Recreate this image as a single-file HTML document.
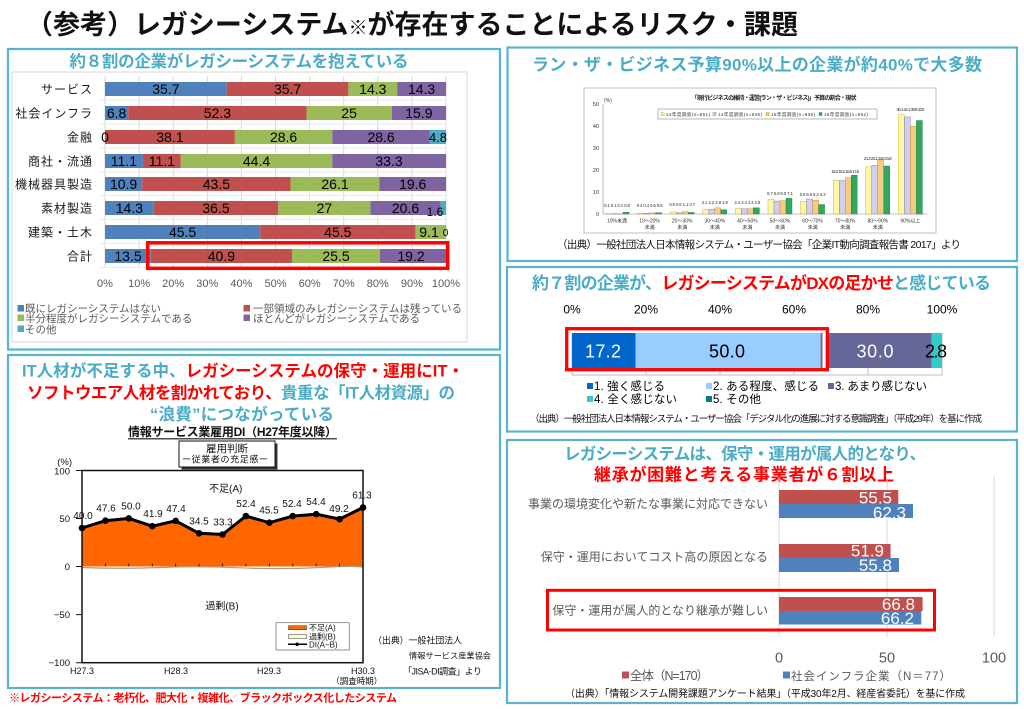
<!DOCTYPE html>
<html><head><meta charset="utf-8">
<style>
html,body{margin:0;padding:0;background:#fff;}
svg{display:block;}
text{font-family:"Liberation Sans","Noto Sans CJK JP",sans-serif;}
.b{font-weight:bold;}
.m{font-family:"Liberation Mono","Noto Sans CJK JP",monospace;}
</style></head><body>
<svg width="1024" height="709" viewBox="0 0 1024 709" xmlns="http://www.w3.org/2000/svg">
<rect x="0" y="0" width="1024" height="709" fill="#fff"/>

<!-- Main title -->
<text x="26" y="34" font-size="27" class="b" fill="#111" textLength="772" lengthAdjust="spacing">（参考）レガシーシステム<tspan font-size="19">※</tspan>が存在することによるリスク・課題</text>

<!-- Panel borders -->
<g fill="none" stroke="#5AB3CC" stroke-width="2.2">
<rect x="8" y="49" width="492" height="300.5"/>
<rect x="507.5" y="47.5" width="509.5" height="213.5"/>
<rect x="507" y="267" width="510" height="164.5"/>
<rect x="507" y="440" width="510" height="263"/>
<rect x="8" y="355" width="492" height="333"/>
</g>

<!-- ================= Panel 1 ================= -->
<rect x="12" y="72" width="455" height="270" fill="none" stroke="#D9D9D9"/>
<text x="239" y="67" text-anchor="middle" font-size="16.5" class="b" fill="#4BACC6" textLength="339" lengthAdjust="spacing">約８割の企業がレガシーシステムを抱えている</text>
<g stroke="#D9D9D9" stroke-width="1">
<path d="M105 76V268M139.1 76V268M173.2 76V268M207.3 76V268M241.4 76V268M275.5 76V268M309.6 76V268M343.7 76V268M377.8 76V268M411.9 76V268M446 76V268"/>
<path d="M100 100H446M100 124H446M100 148H446M100 172H446M100 195.5H446M100 219.5H446M100 243.5H446M100 267.5H446" stroke="#EAEAEA"/>
</g>
<g>
<rect x="105" y="82" width="121.7" height="14" fill="#4F81BD"/><rect x="226.7" y="82" width="121.7" height="14" fill="#C0504D"/><rect x="348.4" y="82" width="48.8" height="14" fill="#9BBB59"/><rect x="397.2" y="82" width="48.8" height="14" fill="#8064A2"/>
<rect x="105" y="106" width="23.2" height="14" fill="#4F81BD"/><rect x="128.2" y="106" width="178.3" height="14" fill="#C0504D"/><rect x="306.5" y="106" width="85.3" height="14" fill="#9BBB59"/><rect x="391.8" y="106" width="54.2" height="14" fill="#8064A2"/>
<rect x="105" y="130" width="129.9" height="14" fill="#C0504D"/><rect x="234.9" y="130" width="97.5" height="14" fill="#9BBB59"/><rect x="332.4" y="130" width="97.5" height="14" fill="#8064A2"/><rect x="429.9" y="130" width="16.1" height="14" fill="#4BACC6"/>
<rect x="105" y="154" width="37.9" height="14" fill="#4F81BD"/><rect x="142.9" y="154" width="37.9" height="14" fill="#C0504D"/><rect x="180.8" y="154" width="151.4" height="14" fill="#9BBB59"/><rect x="332.2" y="154" width="113.8" height="14" fill="#8064A2"/>
<rect x="105" y="177" width="37.2" height="14" fill="#4F81BD"/><rect x="142.2" y="177" width="148.3" height="14" fill="#C0504D"/><rect x="290.5" y="177" width="89" height="14" fill="#9BBB59"/><rect x="379.5" y="177" width="66.5" height="14" fill="#8064A2"/>
<rect x="105" y="201" width="48.8" height="14" fill="#4F81BD"/><rect x="153.8" y="201" width="124.5" height="14" fill="#C0504D"/><rect x="278.3" y="201" width="92.1" height="14" fill="#9BBB59"/><rect x="370.4" y="201" width="70.2" height="14" fill="#8064A2"/><rect x="440.6" y="201" width="5.4" height="14" fill="#4BACC6"/>
<rect x="105" y="225" width="155.2" height="14" fill="#4F81BD"/><rect x="260.2" y="225" width="155.2" height="14" fill="#C0504D"/><rect x="415.4" y="225" width="30.6" height="14" fill="#9BBB59"/>
<rect x="105" y="249" width="45.7" height="14" fill="#4F81BD"/><rect x="150.7" y="249" width="141.3" height="14" fill="#C0504D"/><rect x="292" y="249" width="88" height="14" fill="#9BBB59"/><rect x="380" y="249" width="66" height="14" fill="#8064A2"/>
</g>
<g font-size="14" fill="#000" text-anchor="middle">
<text x="165.9" y="94">35.7</text><text x="287.6" y="94">35.7</text><text x="372.8" y="94">14.3</text><text x="421.6" y="94">14.3</text>
<text x="116.6" y="118">6.8</text><text x="217.4" y="118">52.3</text><text x="349.1" y="118">25</text><text x="418.9" y="118">15.9</text>
<text x="105" y="142">0</text><text x="170" y="142">38.1</text><text x="283.6" y="142">28.6</text><text x="381.1" y="142">28.6</text><text x="438" y="142" font-size="13">4.8</text>
<text x="123.9" y="166">11.1</text><text x="161.9" y="166">11.1</text><text x="256.5" y="166">44.4</text><text x="389" y="166">33.3</text>
<text x="123.6" y="189">10.9</text><text x="216.4" y="189">43.5</text><text x="335" y="189">26.1</text><text x="412.7" y="189">19.6</text>
<text x="129.4" y="213">14.3</text><text x="216" y="213">36.5</text><text x="324.4" y="213">27</text><text x="405.5" y="213">20.6</text><text x="435" y="216" font-size="12">1.6</text>
<text x="182.6" y="237">45.5</text><text x="337.8" y="237">45.5</text><text x="429" y="237">9.1</text><text x="445.5" y="236" font-size="10">0</text>
<text x="128" y="261">13.5</text><text x="221.4" y="261">40.9</text><text x="336" y="261">25.5</text><text x="411" y="261">19.2</text>
</g>
<g font-size="12" fill="#1a1a1a" text-anchor="end" letter-spacing="1">
<text x="93" y="93.5">サービス</text>
<text x="93" y="117.5">社会インフラ</text>
<text x="93" y="141.5">金融</text>
<text x="93" y="165.5">商社・流通</text>
<text x="93" y="188.5">機械器具製造</text>
<text x="93" y="212.5">素材製造</text>
<text x="93" y="236.5">建築・土木</text>
<text x="93" y="260.5">合計</text>
</g>
<g font-size="11" fill="#595959" text-anchor="middle">
<text x="105" y="287">0%</text><text x="139.1" y="287">10%</text><text x="173.2" y="287">20%</text><text x="207.3" y="287">30%</text><text x="241.4" y="287">40%</text><text x="275.5" y="287">50%</text><text x="309.6" y="287">60%</text><text x="343.7" y="287">70%</text><text x="377.8" y="287">80%</text><text x="411.9" y="287">90%</text><text x="446" y="287">100%</text>
</g>
<rect x="147.7" y="242.8" width="300" height="25.5" fill="none" stroke="#FF0000" stroke-width="3.5"/>
<rect x="17.5" y="305" width="6.5" height="6.5" fill="#4F81BD"/>
<rect x="243.5" y="305" width="6.5" height="6.5" fill="#C0504D"/>
<rect x="17.5" y="314.5" width="6.5" height="6.5" fill="#9BBB59"/>
<rect x="243.5" y="314.5" width="6.5" height="6.5" fill="#8064A2"/>
<rect x="17.5" y="325.5" width="6.5" height="6.5" fill="#4BACC6"/>
<g font-size="10.5" fill="#595959">
<text x="25" y="312.2">既にレガシーシステムはない</text>
<text x="253" y="312.2">一部領域のみレガシーシステムは残っている</text>
<text x="25" y="321.8">半分程度がレガシーシステムである</text>
<text x="253" y="321.8">ほとんどがレガシーシステムである</text>
<text x="25" y="333">その他</text>
</g>

<!-- ================= Panel 2 ================= -->
<text x="532" y="70.5" font-size="17" class="b" fill="#4BACC6" textLength="450" lengthAdjust="spacing">ラン・ザ・ビジネス予算90%以上の企業が約40%で大多数</text>
<rect x="584" y="88" width="352" height="145" fill="#fff" stroke="#BFBFBF"/>
<text x="774" y="100" text-anchor="middle" font-size="6" class="b" fill="#222" textLength="165" lengthAdjust="spacing">「現行ビジネスの維持・運営(ラン・ザ・ビジネス)」予算の割合・現状</text>
<path d="M603 104V214H927" stroke="#888" fill="none" stroke-width="0.6"/>
<g font-size="5.5" fill="#333" text-anchor="end">
<text x="599" y="106">50</text><text x="599" y="128">40</text><text x="599" y="150">30</text><text x="599" y="172">20</text><text x="599" y="194">10</text><text x="599" y="216">0</text>
</g>
<text x="604" y="102" font-size="5" fill="#333">(%)</text>
<rect x="658" y="109" width="219" height="10" fill="#fff" stroke="#888" stroke-width="0.6"/>
<rect x="661" y="112.5" width="3" height="3" fill="#FFF7A8" stroke="#BBA800" stroke-width="0.4"/>
<rect x="713" y="112.5" width="3" height="3" fill="#CFCFEF" stroke="#7070A0" stroke-width="0.4"/>
<rect x="766" y="112.5" width="3" height="3" fill="#F8CC80" stroke="#C08020" stroke-width="0.4"/>
<rect x="819" y="112.5" width="3" height="3" fill="#30A860" stroke="#1E7A40" stroke-width="0.4"/>
<g font-size="4.6" fill="#333">
<text x="666" y="116" textLength="44">13年度調査(n=851)</text>
<text x="718" y="116" textLength="44">14年度調査(n=945)</text>
<text x="771" y="116" textLength="44">15年度調査(n=939)</text>
<text x="824" y="116" textLength="44">16年度調査(n=862)</text>
</g>
<g stroke-width="0.4">
<g fill="#FFF7A8" stroke="#BBA800">
<rect x="605" y="213.78" width="6" height="0.22"/><rect x="637.6" y="213.12" width="6" height="0.88"/><rect x="670.2" y="212.02" width="6" height="1.98"/><rect x="702.8" y="209.38" width="6" height="4.62"/><rect x="735.4" y="208.72" width="6" height="5.28"/><rect x="768" y="199.26" width="6" height="14.74"/><rect x="800.6" y="201.24" width="6" height="12.76"/><rect x="833.2" y="180.56" width="6" height="33.44"/><rect x="865.8" y="166.92" width="6" height="47.08"/><rect x="898.4" y="114.78" width="6" height="99.22"/>
</g>
<g fill="#CFCFEF" stroke="#7070A0">
<rect x="611" y="213.78" width="6" height="0.22"/><rect x="643.6" y="213.12" width="6" height="0.88"/><rect x="676.2" y="212.68" width="6" height="1.32"/><rect x="708.8" y="209.16" width="6" height="4.84"/><rect x="741.4" y="208.72" width="6" height="5.28"/><rect x="774" y="201.02" width="6" height="12.98"/><rect x="806.6" y="199.04" width="6" height="14.96"/><rect x="839.2" y="180.56" width="6" height="33.44"/><rect x="871.8" y="165.38" width="6" height="48.62"/><rect x="904.4" y="116.98" width="6" height="97.02"/>
</g>
<g fill="#F8CC80" stroke="#C08020">
<rect x="617" y="213.78" width="6" height="0.22"/><rect x="649.6" y="212.9" width="6" height="1.1"/><rect x="682.2" y="211.58" width="6" height="2.42"/><rect x="714.8" y="207.84" width="6" height="6.16"/><rect x="747.4" y="208.72" width="6" height="5.28"/><rect x="780" y="200.8" width="6" height="13.2"/><rect x="812.6" y="200.36" width="6" height="13.64"/><rect x="845.2" y="177.7" width="6" height="36.3"/><rect x="877.8" y="159.88" width="6" height="54.12"/><rect x="910.4" y="126.22" width="6" height="87.78"/>
</g>
<g fill="#30A860" stroke="#1E7A40">
<rect x="623" y="212.24" width="6" height="1.76"/><rect x="655.6" y="212.68" width="6" height="1.32"/><rect x="688.2" y="212.46" width="6" height="1.54"/><rect x="720.8" y="209.82" width="6" height="4.18"/><rect x="753.4" y="207.84" width="6" height="6.16"/><rect x="786" y="198.38" width="6" height="15.62"/><rect x="818.6" y="204.54" width="6" height="9.46"/><rect x="851.2" y="175.28" width="6" height="38.72"/><rect x="883.8" y="166.04" width="6" height="47.96"/><rect x="916.4" y="120.5" width="6" height="93.5"/>
</g>
</g>
<g font-size="4.5" fill="#333" text-anchor="middle">
<text x="617" y="207" textLength="26">0.1 0.1 0.1 0.8</text>
<text x="649.6" y="207" textLength="26">0.4 0.4 0.5 0.6</text>
<text x="682.2" y="206" textLength="26">0.9 0.6 1.1 0.7</text>
<text x="714.8" y="204" textLength="26">2.1 2.2 2.8 1.9</text>
<text x="747.4" y="204" textLength="26">2.4 2.4 2.4 2.8</text>
<text x="780" y="195" textLength="26">6.7 5.9 6.0 7.1</text>
<text x="812.6" y="196" textLength="26">5.8 6.8 6.2 4.3</text>
<text x="845.2" y="173" textLength="28">15.2 15.2 16.5 17.6</text>
<text x="877.8" y="160" textLength="28">21.4 22.1 24.6 21.8</text>
<text x="910.4" y="111" textLength="28">45.1 44.1 39.9 42.5</text>
</g>
<g font-size="5" fill="#333" text-anchor="middle">
<text x="617" y="222.5">10%未満</text>
<text x="649.6" y="222.5">10～20%</text><text x="649.6" y="229">未満</text>
<text x="682.2" y="222.5">20～30%</text><text x="682.2" y="229">未満</text>
<text x="714.8" y="222.5">30～40%</text><text x="714.8" y="229">未満</text>
<text x="747.4" y="222.5">40～50%</text><text x="747.4" y="229">未満</text>
<text x="780" y="222.5">50～60%</text><text x="780" y="229">未満</text>
<text x="812.6" y="222.5">60～70%</text><text x="812.6" y="229">未満</text>
<text x="845.2" y="222.5">70～80%</text><text x="845.2" y="229">未満</text>
<text x="877.8" y="222.5">80～90%</text><text x="877.8" y="229">未満</text>
<text x="910.4" y="222.5">90%以上</text>
</g>
<text x="557" y="248" font-size="10.5" fill="#111" textLength="404" lengthAdjust="spacing">（出典）一般社団法人日本情報システム・ユーザー協会「企業IT動向調査報告書 2017」より</text>

<!-- ================= Panel 3 ================= -->
<text x="532" y="289" font-size="17" class="b" textLength="459" lengthAdjust="spacing"><tspan fill="#4BACC6">約７割の企業が、</tspan><tspan fill="#FF0000">レガシーシステムがDXの足かせ</tspan><tspan fill="#4BACC6">と感じている</tspan></text>
<g class="m" font-size="12" fill="#000" text-anchor="middle">
<text x="572" y="313.5">0%</text><text x="646" y="313.5">20%</text><text x="720" y="313.5">40%</text><text x="794" y="313.5">60%</text><text x="868" y="313.5">80%</text><text x="942" y="313.5">100%</text>
</g>
<path d="M572 333V375M646 333V375M720 333V375M794 333V375M868 333V375M942 333V375M572 375H942" stroke="#BFBFBF" stroke-width="1" fill="none"/>
<rect x="572" y="333" width="63.6" height="35" fill="#0066CC"/>
<rect x="635.6" y="333" width="185" height="35" fill="#99CCFF"/>
<rect x="820.6" y="333" width="111" height="35" fill="#666699"/>
<rect x="931.6" y="333" width="10.4" height="35" fill="#33CCCC"/>
<rect x="822.5" y="333" width="3.5" height="35" fill="#fff"/>
<rect x="566.7" y="328.7" width="260.6" height="41" fill="none" stroke="#FF0000" stroke-width="3.3"/>
<g class="m" font-size="18" text-anchor="middle">
<text x="603" y="357.5" fill="#fff" textLength="36">17.2</text>
<text x="727" y="357.5" fill="#000" textLength="36">50.0</text>
<text x="875" y="357.5" fill="#fff" textLength="37">30.0</text>
<text x="936" y="357.5" fill="#000" textLength="22">2.8</text>
</g>
<rect x="587" y="383" width="6" height="6" fill="#0066CC"/>
<rect x="706" y="383" width="6" height="6" fill="#99CCFF"/>
<rect x="828" y="383" width="6" height="6" fill="#666699"/>
<rect x="587" y="396" width="6" height="6" fill="#33CCCC"/>
<rect x="706" y="396" width="6" height="6" fill="#008080"/>
<g class="m" font-size="11.5" fill="#000">
<text x="594" y="390.2" textLength="71">1. 強く感じる</text>
<text x="713" y="390.2" textLength="106">2. ある程度、感じる</text>
<text x="835" y="390.2" textLength="92">3. あまり感じない</text>
<text x="594" y="403" textLength="83">4. 全く感じない</text>
<text x="713" y="403" textLength="48">5. その他</text>
</g>
<text x="530" y="422.2" font-size="9.5" fill="#111" textLength="452" lengthAdjust="spacing">（出典）一般社団法人日本情報システム・ユーザー協会「デジタル化の進展に対する意識調査」（平成29年）を基に作成</text>

<!-- ================= Panel 4 ================= -->
<text x="564" y="459.5" font-size="16.5" class="b" fill="#4BACC6" textLength="362" lengthAdjust="spacing">レガシーシステムは、保守・運用が属人的となり、</text>
<text x="594" y="480.5" font-size="17" class="b" fill="#FF0000" textLength="300" lengthAdjust="spacing">継承が困難と考える事業者が６割以上</text>
<path d="M779 477V637M887 477V637M994 477V637" stroke="#D9D9D9" stroke-width="1"/>
<rect x="779" y="490" width="119.3" height="14" fill="#C0504D"/>
<rect x="779" y="504" width="134" height="14" fill="#4F81BD"/>
<rect x="779" y="544" width="111.6" height="14" fill="#C0504D"/>
<rect x="779" y="558" width="120" height="14" fill="#4F81BD"/>
<rect x="779" y="597" width="143.6" height="14" fill="#C0504D"/>
<rect x="779" y="611" width="142.3" height="13.5" fill="#4F81BD"/>
<g font-size="17" fill="#fff" text-anchor="end">
<text x="892" y="503.3">55.5</text>
<text x="906" y="518.3">62.3</text>
<text x="884" y="556.7">51.9</text>
<text x="892" y="571">55.8</text>
<text x="915" y="610">66.8</text>
<text x="914" y="624">66.2</text>
</g>
<g font-size="12" fill="#595959" text-anchor="end">
<text x="768" y="508">事業の環境変化や新たな事業に対応できない</text>
<text x="768" y="561">保守・運用においてコスト高の原因となる</text>
<text x="768" y="614.5">保守・運用が属人的となり継承が難しい</text>
</g>
<rect x="547.5" y="590.3" width="387" height="39.7" fill="none" stroke="#FF0000" stroke-width="3"/>
<g font-size="14.5" fill="#595959" text-anchor="middle">
<text x="779" y="662.5">0</text><text x="887" y="662.5">50</text><text x="994" y="662.5">100</text>
</g>
<rect x="622" y="671.5" width="7" height="7" fill="#C0504D"/>
<rect x="783" y="671.5" width="7" height="7" fill="#4F81BD"/>
<g font-size="12.5" fill="#595959">
<text x="630" y="680" textLength="79" lengthAdjust="spacing">全体（N=170）</text>
<text x="791" y="680" font-size="11.5" textLength="160" lengthAdjust="spacing">社会インフラ企業（N＝77）</text>
</g>
<text x="565" y="697" font-size="10" fill="#111" textLength="400" lengthAdjust="spacing">（出典）「情報システム開発課題アンケート結果」（平成30年2月、経産省委託）を基に作成</text>

<!-- ================= Panel 5 ================= -->
<text x="22" y="376.6" font-size="16.5" class="b" textLength="442" lengthAdjust="spacing"><tspan fill="#4BACC6">IT人材が不足する中、</tspan><tspan fill="#FF0000">レガシーシステムの保守・運用にIT・</tspan></text>
<text x="27" y="398.6" font-size="16.5" class="b" textLength="428" lengthAdjust="spacing"><tspan fill="#FF0000">ソフトウエア人材を割かれており、</tspan><tspan fill="#4BACC6">貴重な「IT人材資源」の</tspan></text>
<text x="150" y="420" font-size="16.5" class="b" fill="#4BACC6" textLength="184" lengthAdjust="spacing">“浪費”につながっている</text>
<text x="128" y="436" font-size="12" class="b" fill="#111" textLength="209" lengthAdjust="spacing">情報サービス業雇用DI（H27年度以降）</text>
<path d="M128 438.8H337" stroke="#111" stroke-width="1.2"/>
<rect x="181.5" y="443.5" width="96" height="26" fill="#333"/>
<rect x="179" y="441" width="96" height="26" fill="#fff" stroke="#111" stroke-width="1"/>
<text x="227" y="452" font-size="10.5" fill="#111" text-anchor="middle">雇用判断</text>
<text x="225" y="462.7" font-size="9" fill="#111" text-anchor="middle" textLength="86" lengthAdjust="spacing">ー従業者の充足感ー</text>

<polygon points="82,526.5 105.4,519.2 128.8,516.9 152.3,524.7 175.7,519.4 199.1,531.8 222.5,533 245.9,514.6 269.4,521.2 292.8,514.6 316.2,512.7 339.6,517.3 363,506 363,566.5 82,566.5" fill="#FF6600"/>
<path d="M82 567.5 Q120 569 160 567.5 T240 567.8 T320 567.5 T363 567.5" stroke="#A8A080" stroke-width="1.2" fill="none"/>
<rect x="82" y="470.5" width="281" height="192.2" fill="none" stroke="#111" stroke-width="1.5"/>
<path d="M76 470.5H82M76 518.5H82M76 566.5H82M76 614.6H82M76 662.7H82" stroke="#111" stroke-width="1"/>
<path d="M105.4 563.5V566.5M128.8 563.5V566.5M152.3 563.5V566.5M175.7 563.5V566.5M199.1 563.5V566.5M222.5 563.5V566.5M245.9 563.5V566.5M269.4 563.5V566.5M292.8 563.5V566.5M316.2 563.5V566.5M339.6 563.5V566.5" stroke="#111" stroke-width="0.8"/>
<polyline points="82,528 105.4,520.7 128.8,518.4 152.3,526.2 175.7,520.9 199.1,533.3 222.5,534.5 245.9,516.1 269.4,522.7 292.8,516.1 316.2,514.2 339.6,519.2 363,507.5" fill="none" stroke="#000" stroke-width="3" stroke-linejoin="round"/>
<g fill="#000">
<circle cx="82" cy="528" r="3.3"/><circle cx="105.4" cy="520.7" r="3.3"/><circle cx="128.8" cy="518.4" r="3.3"/><circle cx="152.3" cy="526.2" r="3.3"/><circle cx="175.7" cy="520.9" r="3.3"/><circle cx="199.1" cy="533.3" r="3.3"/><circle cx="222.5" cy="534.5" r="3.3"/><circle cx="245.9" cy="516.1" r="3.3"/><circle cx="269.4" cy="522.7" r="3.3"/><circle cx="292.8" cy="516.1" r="3.3"/><circle cx="316.2" cy="514.2" r="3.3"/><circle cx="339.6" cy="519.2" r="3.3"/><circle cx="363" cy="507.5" r="3.3"/>
</g>
<g font-size="10" fill="#111" text-anchor="middle">
<text x="83" y="519">40.0</text><text x="106" y="511.7">47.6</text><text x="131" y="509.4">50.0</text><text x="153" y="517">41.9</text><text x="176" y="512">47.4</text><text x="199" y="524.3">34.5</text><text x="223" y="525.5">33.3</text><text x="246" y="507.1">52.4</text><text x="269" y="513.7">45.5</text><text x="292" y="507.1">52.4</text><text x="316" y="505.2">54.4</text><text x="339" y="512">49.2</text><text x="362" y="498.5">61.3</text>
</g>
<g font-size="9.5" fill="#111" text-anchor="end">
<text x="72" y="465">(%)</text>
<text x="70" y="474.5">100</text><text x="70" y="522">50</text><text x="70" y="570">0</text><text x="70" y="618">−50</text><text x="70" y="666">−100</text>
</g>
<text x="225.7" y="492" font-size="10" fill="#111" text-anchor="middle">不足(A)</text>
<text x="222" y="609.5" font-size="10" fill="#111" text-anchor="middle">過剰(B)</text>
<g font-size="9" fill="#111" text-anchor="middle">
<text x="82" y="674">H27.3</text><text x="176" y="674">H28.3</text><text x="269" y="674">H29.3</text><text x="363" y="674">H30.3</text>
<text x="356.7" y="684" font-size="8.5">（調査時期）</text>
</g>
<rect x="276" y="622.7" width="73.3" height="27.3" fill="#fff" stroke="#777" stroke-width="0.8"/>
<rect x="288.5" y="625.7" width="18" height="4" fill="#FF6600" stroke="#333" stroke-width="0.5"/>
<rect x="288.5" y="634.5" width="18" height="4" fill="#FFFFCC" stroke="#333" stroke-width="0.5"/>
<path d="M288 644.3H307" stroke="#000" stroke-width="1.5"/><circle cx="297" cy="644.3" r="1.8" fill="#000"/>
<g font-size="8" fill="#111">
<text x="309" y="630.5">不足(A)</text>
<text x="309" y="639.5">過剰(B)</text>
<text x="309" y="647.5">DI(A−B)</text>
</g>
<g fill="#111">
<text x="373" y="643.7" font-size="9" textLength="89" lengthAdjust="spacing">（出典）一般社団法人</text>
<text x="409" y="658.7" font-size="8.2" textLength="82" lengthAdjust="spacing">情報サービス産業協会</text>
<text x="403" y="674.7" font-size="9" textLength="79" lengthAdjust="spacing">「JISA-DI調査」より</text>
</g>
<text x="9" y="701.7" font-size="11" class="b" fill="#FF0000" textLength="388" lengthAdjust="spacing">※レガシーシステム：老朽化、肥大化・複雑化、ブラックボックス化したシステム</text>
</svg>
</body></html>
